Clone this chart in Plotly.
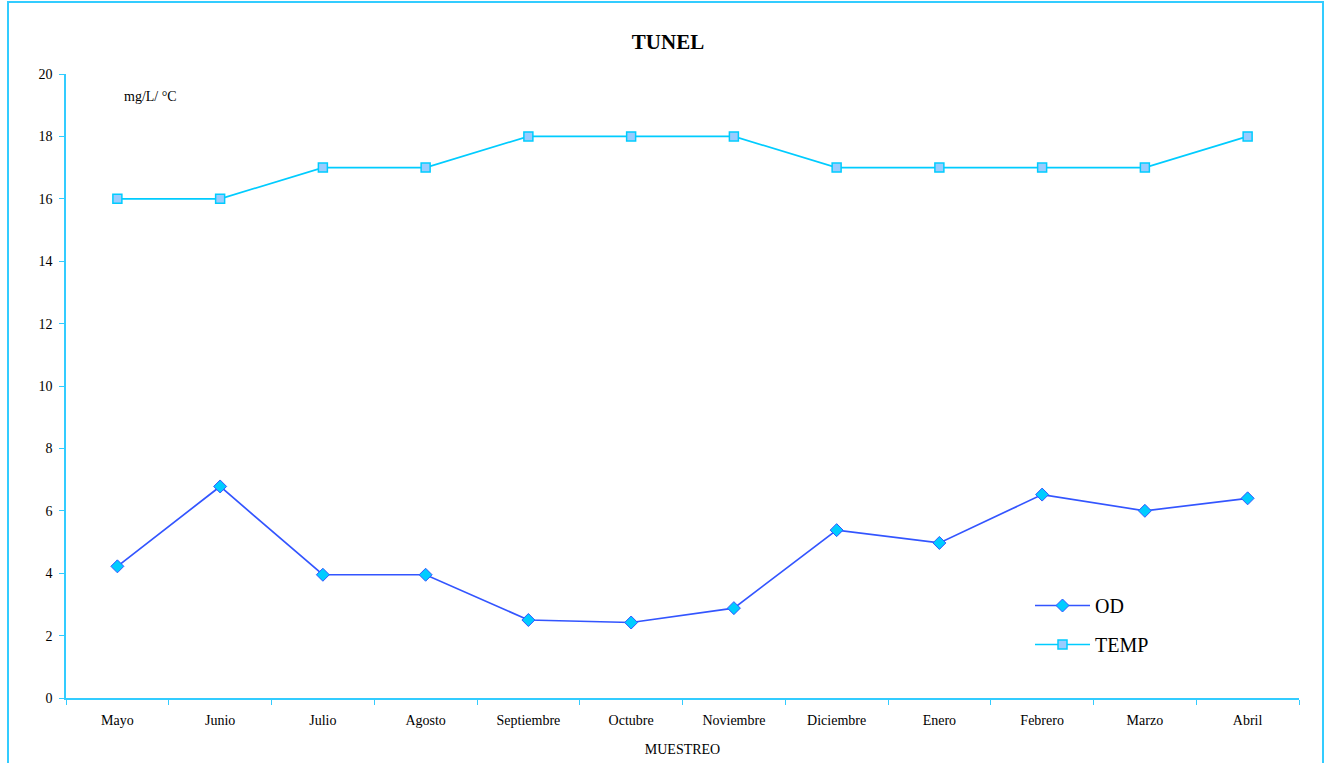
import plotly.graph_objects as go

meses = ["Mayo", "Junio", "Julio", "Agosto", "Septiembre", "Octubre",
         "Noviembre", "Diciembre", "Enero", "Febrero", "Marzo", "Abril"]
od = [4.22, 6.78, 3.95, 3.95, 2.5, 2.42, 2.88, 5.38, 4.97, 6.52, 6.0, 6.4]
temp = [16, 16, 17, 17, 18, 18, 18, 17, 17, 17, 17, 18]

W, H = 1327, 763
L, R, T, B = 66, 28, 74, 65
pw, ph = W - L - R, H - T - B

def px_x(x):
    return (x - L) / pw

def px_y(y):
    return (H - B - y) / ph

AXIS = "#33CCFF"
FONT = "Liberation Serif, Times New Roman, serif"

fig = go.Figure()
fig.add_trace(go.Scatter(
    x=meses, y=od, name="OD", mode="lines+markers", legendgroup="od",
    line=dict(color="#3355FF", width=1.7),
    marker=dict(symbol="diamond", size=10, color="#00CCFF",
                line=dict(color="#3355FF", width=1)),
))
fig.add_trace(go.Scatter(
    x=meses, y=temp, name="TEMP", mode="lines+markers", legendgroup="temp",
    line=dict(color="#00CCFF", width=1.7),
    marker=dict(symbol="square", size=9, color="#99CCFF",
                line=dict(color="#00CCFF", width=1.5)),
))

fig.update_layout(
    width=W, height=H,
    margin=dict(l=L, r=R, t=T, b=B),
    paper_bgcolor="white", plot_bgcolor="white",
    font=dict(family=FONT, color="black", size=14),
    title=dict(text="<b>TUNEL</b>", x=668 / W, xanchor="center",
               y=1 - 42 / H, yanchor="middle",
               font=dict(family=FONT, size=21, color="black")),
    showlegend=True,
    legend=dict(x=px_x(1030), y=px_y(586), xanchor="left", yanchor="top",
                font=dict(family=FONT, size=20, color="black"),
                bgcolor="rgba(0,0,0,0)", traceorder="grouped",
                tracegroupgap=10, itemwidth=55),
    xaxis=dict(
        type="category", range=[-0.5, 11.5], automargin=False,
        showline=True, linecolor=AXIS, linewidth=1.5,
        ticks="outside", tickson="boundaries", ticklen=5, tickcolor=AXIS,
        showgrid=False, zeroline=False,
        tickfont=dict(family=FONT, size=14), ticklabelstandoff=8,
        title=dict(text="MUESTREO", font=dict(family=FONT, size=14), standoff=18),
    ),
    yaxis=dict(
        range=[0, 20], dtick=2, automargin=False,
        showline=True, linecolor=AXIS, linewidth=1.5,
        ticks="outside", ticklen=5, tickcolor=AXIS,
        showgrid=False, zeroline=False,
        tickfont=dict(family=FONT, size=14), ticklabelstandoff=4,
    ),
    shapes=[dict(type="rect", xref="paper", yref="paper",
                 x0=px_x(8), x1=px_x(1323), y0=px_y(780), y1=px_y(2),
                 line=dict(color=AXIS, width=2), fillcolor="rgba(0,0,0,0)",
                 layer="below")],
    annotations=[dict(text="mg/L/ °C", xref="paper", yref="paper",
                      x=px_x(122), y=px_y(96), xanchor="left", yanchor="middle",
                      showarrow=False, font=dict(family=FONT, size=14))],
)

fig.write_html("out.html")
